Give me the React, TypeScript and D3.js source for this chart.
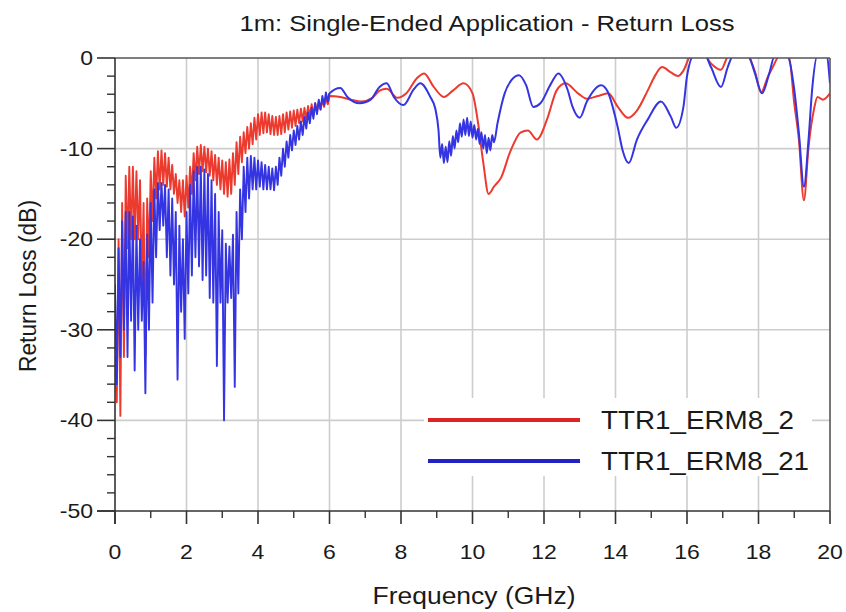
import React from 'react';
import * as d3 from 'd3';

const W = 846;
const H = 612;

// ---------- axis ticks ----------
const xMajorTicks = [0, 2, 4, 6, 8, 10, 12, 14, 16, 18, 20];
const xMinorTicks = [1, 3, 5, 7, 9, 11, 13, 15, 17, 19];
const yMajorTicks = [0, -10, -20, -30, -40, -50];
const yMinorTicks = [-2, -4, -6, -8, -12, -14, -16, -18, -22, -24, -26, -28, -32, -34, -36, -38, -42, -44, -46, -48];

// ---------- series names ----------
const seriesNames = ['TTR1_ERM8_2', 'TTR1_ERM8_21'];

// ---------- low-frequency ripple region (one cycle per 0.1 GHz: crest at f, trough at f+0.05) ----------
const rippleFreq = d3.range(0, 6.0, 0.1);

const redHi = [
  -33, -20, -16, -13, -12, -12, -12.5, -13.5, -16, -15.5,
  -12.5, -11, -10.3, -10.2, -10.5, -11, -11.8, -12.8, -13.5, -13.5,
  -13, -12, -10.5, -9.8, -9.6, -9.8, -10, -10.3, -10.7, -11,
  -11.3, -11.5, -11.2, -10.5, -9.3, -8.7, -8.2, -7.6, -7.2, -6.6,
  -6.2, -6, -6, -6.2, -6.4, -6.5, -6.4, -6.2, -6, -5.9,
  -5.8, -5.7, -5.6, -5.5, -5.3, -5.1, -5, -4.8, -4.6, -4.4,
];
const redLo = [
  -38, -39.5, -33, -21, -20, -20, -20, -25, -33, -22,
  -18, -15.5, -14.5, -14, -14.2, -14.5, -15, -16, -17, -17.5,
  -16.5, -15, -13.5, -12.8, -12.5, -12.6, -13, -13.5, -14, -14.5,
  -15, -15.3, -15, -14, -12.8, -11.5, -10.5, -10, -9.5, -9,
  -8.5, -8.3, -8.2, -8.4, -8.5, -8.5, -8.4, -8.2, -7.9, -7.7,
  -7.5, -7.2, -7, -6.8, -6.5, -6.3, -6, -5.7, -5.4, -5.1,
];
const blueHi = [
  -25, -21, -18, -17, -17, -17.5, -18.5, -20, -22.5, -19.5,
  -16, -14.5, -13.8, -13.8, -14, -14.5, -15.5, -17, -18.5, -20,
  -17, -14, -12.5, -12, -12, -12.3, -12.8, -13.5, -15, -17,
  -19, -20.5, -20.8, -19.5, -17, -14.5, -12, -11, -10.8, -11,
  -11.3, -11.5, -11.8, -12, -12.2, -12, -11, -10, -9.2, -8.5,
  -8, -7.5, -7, -6.5, -6, -5.5, -5, -4.6, -4.2, -3.8,
];
const blueLo = [
  -36, -33, -30, -33, -29, -34.5, -30, -29, -37, -30,
  -27, -22, -19, -18.5, -22, -24, -25, -35.5, -28, -31,
  -26, -24, -22, -23, -24.5, -24, -26.5, -27, -34, -27,
  -40, -27, -26.5, -36.3, -26, -20, -17, -15.5, -14.5, -14.5,
  -14.2, -14.5, -14.5, -14.5, -14.6, -14, -13, -12, -11, -10.2,
  -9.6, -9, -8.5, -7.8, -7.2, -6.7, -6.2, -5.7, -5.2, -4.8,
];

// ---------- higher-frequency region ----------
const redHfFreq = [
  6.0, 6.3, 6.6, 6.9, 7.2, 7.4, 7.6, 7.9, 8.15, 8.45, 8.65, 8.9, 9.2, 9.45, 9.75, 10.0,
  10.15, 10.3, 10.45, 10.6, 10.8, 11.05, 11.35, 11.55, 11.8, 12.1, 12.35, 12.6, 12.95, 13.2,
  13.5, 13.8, 14.05, 14.35, 14.6, 14.9, 15.1, 15.3, 15.55, 15.75, 15.9, 16.1, 16.4, 16.67,
  16.95, 17.15, 17.6, 17.9, 18.07, 18.25, 18.4, 18.6, 18.85, 19.0, 19.13, 19.27, 19.4, 19.55,
  19.65, 19.8, 20.0,
];
const redHfVal = [
  -4.2, -4.3, -4.6, -4.8, -4.4, -3.6, -3.4, -4.4, -3.9, -2.2, -1.7, -3.1, -4.3, -3.6, -2.8, -3.9,
  -7, -11.5, -15, -14.2, -13.2, -10.4, -8.2, -8, -9, -6.6, -3.6, -2.8, -3.9, -4.5,
  -4.2, -3.9, -5.3, -6.6, -5.8, -3.6, -2, -1, -1.6, -2, -1.4, 0.3, 0.8, -0.6,
  -1.3, 0.2, 0.8, -1.5, -3.8, -2.2, -1, 0.3, 0.2, -5, -9, -15.7, -9.8, -5.7,
  -4.3, -4.6, -3.9,
];
const blueHfFreq = [
  6.0, 6.3, 6.5, 6.85, 7.15, 7.4, 7.6, 7.8, 8.07, 8.35, 8.54, 8.82, 8.96, 9.05,
  9.1, 9.15, 9.2, 9.25, 9.3, 9.35, 9.4, 9.45, 9.5, 9.55, 9.6, 9.65, 9.7, 9.75, 9.8, 9.85,
  9.9, 9.95, 10.0, 10.05, 10.1, 10.15, 10.2, 10.25, 10.3, 10.35, 10.4, 10.45, 10.5, 10.55, 10.6,
  10.7, 10.9, 11.1, 11.3, 11.5, 11.7, 11.9, 12.2, 12.4, 12.66, 12.8, 13.0, 13.2, 13.6, 13.78,
  14.06, 14.2, 14.37, 14.6, 14.9, 15.27, 15.55, 15.7, 15.9, 16.0, 16.2, 16.5, 16.67, 16.95,
  17.14, 17.3, 17.7, 17.9, 18.1, 18.3, 18.45, 18.8, 19.0, 19.13, 19.27, 19.4, 19.5, 19.65,
  19.9, 20.0,
];
const blueHfVal = [
  -3.9, -3.3, -4.3, -5, -4.6, -3.2, -2.8, -4.3, -5.2, -3.5, -2.8, -4.3, -5.6, -8,
  -11, -9.5, -11.6, -9.8, -11.5, -9.2, -10.8, -8.6, -10, -8, -9.3, -7.2, -8.7, -6.8, -8.5, -6.6,
  -8.6, -7, -8.8, -7.4, -9, -7.8, -9.5, -8.2, -10, -8.5, -10.5, -8.8, -10.2, -8.5, -9.3,
  -7.2, -3.9, -2.4, -1.9, -3, -5.4, -5, -2.8, -1.7, -3.5, -5.4, -6.6, -4.8, -3, -3.7,
  -7.6, -10.2, -11.6, -9, -6.8, -4.8, -6.5, -7.7, -5.4, -2, 0.3, 0.3, -1, -3.2,
  -1, 0.3, 0.3, -1.7, -3.9, -1.7, 0.2, 0.2, -3.5, -8.3, -14.2, -9, -3.5, 0.3,
  0.3, -2.8,
];

// ---------- layout ----------
const PLOT = { left: 115, right: 830, top: 58, bottom: 511 };
const FONT = '"Liberation Sans", Arial, Helvetica, sans-serif';
const RED = '#ec3a2e';
const BLUE = '#3434e2';
const LEG_RED = '#dd2424';
const LEG_BLUE = '#2222c4';

type Pt = [number, number];

function ripplePoints(hi: number[], lo: number[]): Pt[] {
  const pts: Pt[] = [];
  rippleFreq.forEach((f, i) => {
    pts.push([f, hi[i]]);
    pts.push([f + 0.05, lo[i]]);
  });
  return pts;
}
function hfPoints(fs: number[], vs: number[]): Pt[] {
  return fs.map((f, i) => [f, vs[i]] as Pt);
}

const HText = ({ x, y, sx = 1.15, size, anchor = 'middle', children, len }: any) => (
  <text
    transform={`translate(${x},${y}) scale(${sx},1)`}
    fontSize={size}
    fontFamily={FONT}
    textAnchor={anchor}
    fill="#1a1a1a"
    textLength={len}
    lengthAdjust={len ? 'spacingAndGlyphs' : undefined}
  >
    {children}
  </text>
);

export default function App() {
  const x = d3.scaleLinear().domain([0, 20]).range([PLOT.left, PLOT.right]);
  const y = d3.scaleLinear().domain([-50, 0]).range([PLOT.bottom, PLOT.top]);

  const lin = d3.line<Pt>().x((d) => x(d[0])).y((d) => y(d[1])).curve(d3.curveLinear);
  const smooth = d3.line<Pt>().x((d) => x(d[0])).y((d) => y(d[1])).curve(d3.curveMonotoneX);

  const redR = ripplePoints(redHi, redLo);
  const redH = hfPoints(redHfFreq, redHfVal);
  const blueR = ripplePoints(blueHi, blueLo);
  const blueH = hfPoints(blueHfFreq, blueHfVal);

  const series = [
    { ripple: [...redR, redH[0]], hf: [redR[redR.length - 1], ...redH], color: RED },
    { ripple: [...blueR, blueH[0]], hf: [blueR[blueR.length - 1], ...blueH], color: BLUE },
  ];

  return (
    <svg width={W} height={H} style={{ position: 'absolute', left: 0, top: 0, background: '#fff' }}>
      <defs>
        <clipPath id="plotClip">
          <rect x={PLOT.left} y={PLOT.top} width={PLOT.right - PLOT.left} height={PLOT.bottom - PLOT.top} />
        </clipPath>
      </defs>
      <rect x={0} y={0} width={W} height={H} fill="#fff" />

      {/* grid */}
      {xMajorTicks.slice(1, -1).map((t) => (
        <line key={'gx' + t} x1={x(t)} x2={x(t)} y1={PLOT.top} y2={PLOT.bottom} stroke="#cdcdcd" strokeWidth={1.6} />
      ))}
      {yMajorTicks.slice(1, -1).map((t) => (
        <line key={'gy' + t} x1={PLOT.left} x2={PLOT.right} y1={y(t)} y2={y(t)} stroke="#cdcdcd" strokeWidth={1.6} />
      ))}

      {/* legend background */}
      <rect x={424} y={398} width={388} height={78} fill="#fff" />

      {/* data */}
      <g clipPath="url(#plotClip)" fill="none" strokeLinejoin="round">
        {series.map((s, i) => (
          <g key={i} stroke={s.color}>
            <path d={lin(s.ripple) || ''} strokeWidth={1.9} />
            <path d={smooth(s.hf) || ''} strokeWidth={2} />
          </g>
        ))}
      </g>

      {/* frame */}
      <line x1={PLOT.left} x2={PLOT.right} y1={PLOT.top} y2={PLOT.top} stroke="#555" strokeWidth={1.6} />
      <line x1={PLOT.right} x2={PLOT.right} y1={PLOT.top} y2={PLOT.bottom} stroke="#555" strokeWidth={1.6} />
      <line x1={PLOT.left} x2={PLOT.left} y1={PLOT.top} y2={PLOT.bottom + 13} stroke="#333" strokeWidth={1.6} />
      <line x1={PLOT.left - 18} x2={PLOT.right} y1={PLOT.bottom} y2={PLOT.bottom} stroke="#333" strokeWidth={1.6} />

      {/* x ticks */}
      {xMajorTicks.map((t) => (
        <g key={'xt' + t}>
          <line x1={x(t)} x2={x(t)} y1={PLOT.bottom} y2={PLOT.bottom + 13} stroke="#333" strokeWidth={1.6} />
          <HText x={x(t)} y={559} size={20}>{t}</HText>
        </g>
      ))}
      {xMinorTicks.map((t) => (
        <line key={'xm' + t} x1={x(t)} x2={x(t)} y1={PLOT.bottom} y2={PLOT.bottom + 7} stroke="#333" strokeWidth={1.4} />
      ))}

      {/* y ticks */}
      {yMajorTicks.map((t) => (
        <g key={'yt' + t}>
          <line x1={PLOT.left - 18} x2={PLOT.left} y1={y(t)} y2={y(t)} stroke="#333" strokeWidth={1.6} />
          <HText x={93} y={y(t) + 7} size={20} anchor="end">{t}</HText>
        </g>
      ))}
      {yMinorTicks.map((t) => (
        <line key={'ym' + t} x1={PLOT.left - 8} x2={PLOT.left} y1={y(t)} y2={y(t)} stroke="#333" strokeWidth={1.4} />
      ))}

      {/* titles */}
      <HText x={487} y={31} size={22} len={495 / 1.15}>1m: Single-Ended Application - Return Loss</HText>
      <HText x={474} y={604} size={24} len={203 / 1.15}>Frequency (GHz)</HText>
      <text
        transform="translate(36,286) rotate(-90)"
        fontSize={23}
        fontFamily={FONT}
        textAnchor="middle"
        fill="#1a1a1a"
        textLength={172}
        lengthAdjust="spacingAndGlyphs"
      >
        Return Loss (dB)
      </text>

      {/* legend */}
      <line x1={428} x2={580} y1={420} y2={420} stroke={LEG_RED} strokeWidth={4} />
      <line x1={428} x2={580} y1={461} y2={461} stroke={LEG_BLUE} strokeWidth={4} />
      <HText x={601} y={429} size={25} anchor="start" len={193 / 1.15}>{seriesNames[0]}</HText>
      <HText x={601} y={470} size={25} anchor="start" len={208 / 1.15}>{seriesNames[1]}</HText>
    </svg>
  );
}
